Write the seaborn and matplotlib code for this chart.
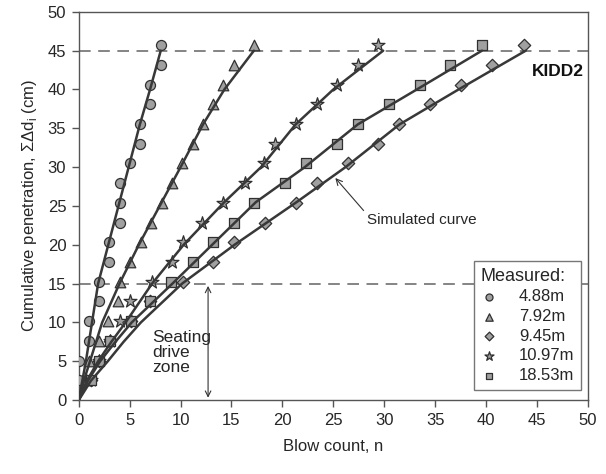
import numpy as np
import pandas as pd
import matplotlib
matplotlib.use("Agg")
import matplotlib.pyplot as plt
import seaborn as sns

# measured cumulative penetration (cm), 1 inch steps
depth = [2.54, 5.08, 7.62, 10.16, 12.7, 15.24, 17.78, 20.32, 22.86,
         25.4, 27.94, 30.48, 33.02, 35.56, 38.1, 40.64, 43.18, 45.72]

n_488 = [0, 0, 1, 1, 2, 2, 3, 3, 4, 4, 4, 5, 6, 6, 7, 7, 8.05, 8.05]
n_792 = [0.8, 1.0, 2.0, 2.9, 3.9, 4.06, 5.07, 6.1, 7.13, 8.15, 9.2, 10.1,
         11.2, 12.2, 13.2, 14.2, 15.2, 17.2]
n_945 = [1.2, 2.0, 3.07, 5.1, 7.0, 10.2, 13.2, 15.25, 18.3, 21.3, 23.4,
         26.4, 29.4, 31.5, 34.5, 37.5, 40.6, 43.7]
n_1097 = [1.2, 2.0, 3.07, 4.0, 5.04, 7.2, 9.2, 10.2, 12.1, 14.2, 16.3,
          18.2, 19.3, 21.3, 23.4, 25.4, 27.4, 29.4]
n_1853 = [1.2, 2.0, 3.07, 5.1, 7.0, 9.1, 11.2, 13.2, 15.25, 17.25, 20.3,
          22.3, 25.4, 27.4, 30.5, 33.5, 36.5, 39.6]

# simulated curves
sim_y = [0, 2.5, 5, 7.5, 10, 15, 20, 25.5, 30, 35.5, 40, 45]
sim_488 = [0, 0.35, 0.7, 1.0, 1.3, 1.9, 2.9, 4.0, 4.9, 6.0, 7.0, 8.05]
sim_792 = [0, 0.5, 1.1, 1.7, 2.3, 4.0, 5.9, 8.15, 10.0, 12.2, 14.3, 17.2]
sim_1097 = [0, 0.8, 1.9, 3.2, 4.6, 7.2, 10.3, 14.3, 17.9, 21.3, 25.0, 29.9]
sim_1853 = [0, 0.9, 2.1, 3.6, 5.2, 9.2, 13.1, 17.4, 22.2, 27.4, 33.2, 39.6]
sim_945 = [0, 1.2, 2.85, 4.4, 6.1, 10.15, 15.3, 21.4, 26.2, 31.5, 37.3, 43.9]

labels = ["4.88m", "7.92m", "9.45m", "10.97m", "18.53m"]
markers = ["o", "^", "D", "*", "s"]
sizes = [52, 58, 40, 95, 50]
measured = [n_488, n_792, n_945, n_1097, n_1853]
simulated = [sim_488, sim_792, sim_945, sim_1097, sim_1853]

sns.set_style("ticks")
plt.rcParams["font.family"] = ["Liberation Sans", "DejaVu Sans"]

fig = plt.figure(figsize=(6.06, 4.74), dpi=100)
ax = fig.add_axes([0.13, 0.156, 0.84, 0.819])

fill = "#a0a0a0"
edge = "#303030"
line_c = "#383838"

for yv in [15, 45]:
    ax.axhline(yv, color="#707070", lw=1.2, ls=(0, (7, 4.5)), zorder=1)

for lab, mk, sz, nn in zip(labels, markers, sizes, measured):
    df = pd.DataFrame({"n": nn, "d": depth})
    sns.scatterplot(data=df, x="n", y="d", marker=mk, s=sz, color=fill,
                    edgecolor=edge, linewidth=0.9, ax=ax, label=lab, zorder=3)

for sx in simulated:
    sdf = pd.DataFrame({"n": sx, "d": sim_y})
    sns.lineplot(data=sdf, x="n", y="d", sort=False, color=line_c, lw=1.8,
                 ax=ax, zorder=4, legend=False)

ax.set_xlim(0, 50)
ax.set_ylim(0, 50)
ax.set_xticks(np.arange(0, 51, 5))
ax.set_yticks(np.arange(0, 51, 5))
ax.tick_params(direction="out", length=5, width=1, color="#555555",
               labelsize=12, pad=4)
for sp in ax.spines.values():
    sp.set_visible(True)
    sp.set_color("#555555")
    sp.set_linewidth(1.0)

ax.set_xlabel("Blow count, n", fontsize=12, labelpad=8)
ax.set_ylabel(r"Cumulative penetration, ΣΔd$_\mathregular{i}$ (cm)",
              fontsize=12, labelpad=6)

ax.text(49.6, 42.3, "KIDD2", fontsize=12.5, fontweight="bold",
        ha="right", va="center", color="#111111")

ax.annotate("Simulated curve", xy=(25.2, 28.6), xytext=(28.3, 23.2),
            fontsize=11, ha="left", va="center",
            arrowprops=dict(arrowstyle="->", color="#333333", lw=0.8,
                            shrinkA=0, shrinkB=0, relpos=(0, 0.9)))

ax.annotate("", xy=(12.7, 0.3), xytext=(12.7, 14.7),
            arrowprops=dict(arrowstyle="<->", color="#333333", lw=0.8,
                            shrinkA=0, shrinkB=0))
ax.text(7.2, 6.1, "Seating\ndrive\nzone", fontsize=12.5, ha="left",
        va="center", linespacing=1.0)

leg = ax.legend(title="Measured:", loc="lower right",
                bbox_to_anchor=(1.003, 0.005), fontsize=12,
                title_fontsize=13, frameon=True, fancybox=False,
                edgecolor="#777777", framealpha=1, handletextpad=1.3,
                borderpad=0.4, labelspacing=0.28, handlelength=1.0,
                markerscale=0.7)
leg._legend_box.align = "left"
leg.get_frame().set_linewidth(1.0)

fig.savefig("out.png", dpi=100)
